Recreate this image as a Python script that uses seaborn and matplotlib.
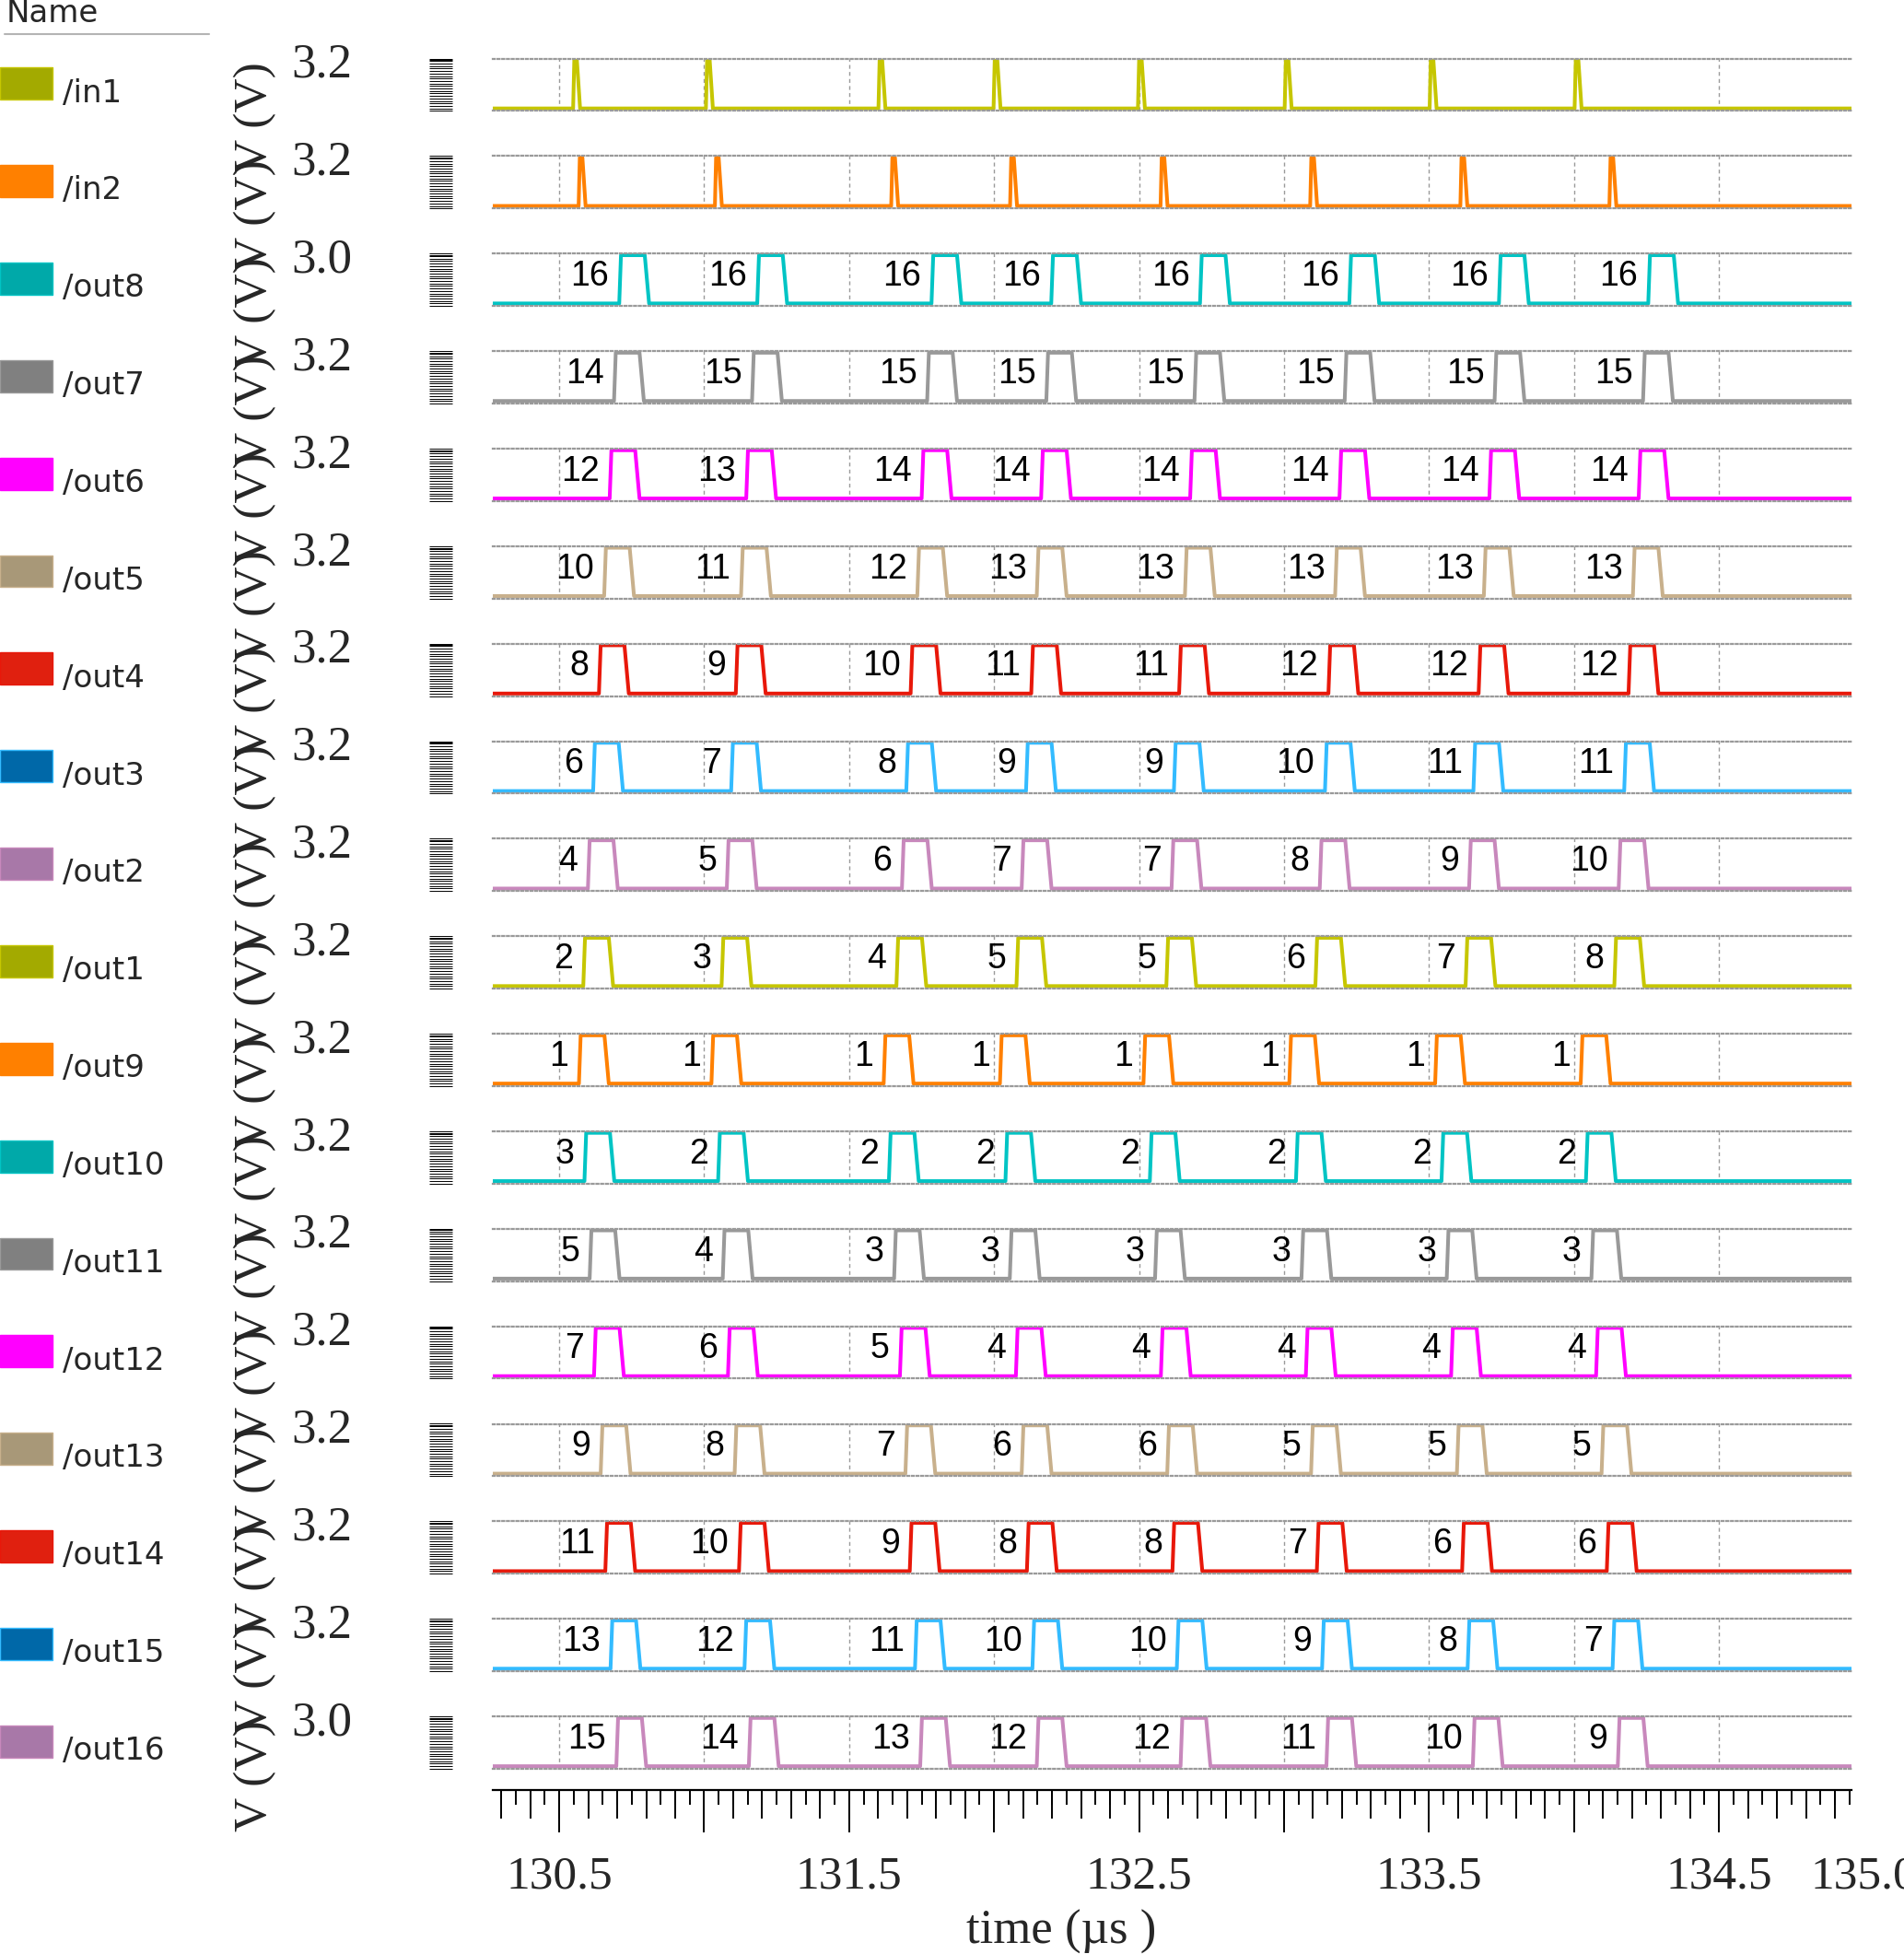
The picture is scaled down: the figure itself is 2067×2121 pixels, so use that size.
import numpy as np
import pandas as pd
import matplotlib
matplotlib.use('Agg')
import matplotlib.pyplot as plt
import matplotlib.transforms as mtransforms
from matplotlib.lines import Line2D
from matplotlib.patches import Patch, Rectangle
from matplotlib.legend_handler import HandlerPatch
from matplotlib.ticker import MultipleLocator
import seaborn as sns

sns.set_theme(style='white')
plt.rcParams['font.family'] = ['DejaVu Sans']

## signal names, top tick value of each row
signals = ['/in1', '/in2', '/out8', '/out7', '/out6', '/out5', '/out4', '/out3', '/out2',
           '/out1', '/out9', '/out10', '/out11', '/out12', '/out13', '/out14', '/out15', '/out16']
tops = [3.2, 3.2, 3.0, 3.2, 3.2, 3.2, 3.2, 3.2, 3.2, 3.2, 3.2, 3.2, 3.2, 3.2, 3.2, 3.2, 3.2, 3.0]

## rising edge of every pulse (us)
rise_in1 = [130.548, 131.006, 131.601, 131.998, 132.496, 133.002, 133.502, 134.002]
rise_in2 = [130.567, 131.037, 131.645, 132.055, 132.574, 133.090, 133.608, 134.122]
rise_out8 = [130.707, 131.183, 131.784, 132.197, 132.710, 133.225, 133.741, 134.256]
rise_out7 = [130.689, 131.165, 131.769, 132.180, 132.691, 133.209, 133.726, 134.238]
rise_out6 = [130.674, 131.145, 131.750, 132.162, 132.676, 133.191, 133.708, 134.223]
rise_out5 = [130.655, 131.127, 131.735, 132.147, 132.658, 133.176, 133.689, 134.203]
rise_out4 = [130.637, 131.109, 131.712, 132.128, 132.638, 133.153, 133.671, 134.188]
rise_out3 = [130.617, 131.093, 131.697, 132.110, 132.620, 133.141, 133.653, 134.173]
rise_out2 = [130.599, 131.078, 131.682, 132.095, 132.612, 133.123, 133.638, 134.154]
rise_out1 = [130.583, 131.060, 131.663, 132.077, 132.594, 133.108, 133.626, 134.139]
rise_out9 = [130.568, 131.025, 131.619, 132.020, 132.515, 133.018, 133.521, 134.023]
rise_out10 = [130.587, 131.048, 131.637, 132.039, 132.537, 133.041, 133.543, 134.041]
rise_out11 = [130.605, 131.064, 131.655, 132.054, 132.555, 133.060, 133.561, 134.060]
rise_out12 = [130.620, 131.082, 131.675, 132.075, 132.575, 133.075, 133.576, 134.076]
rise_out13 = [130.643, 131.105, 131.694, 132.095, 132.597, 133.093, 133.596, 134.095]
rise_out14 = [130.659, 131.120, 131.709, 132.113, 132.615, 133.113, 133.614, 134.113]
rise_out15 = [130.677, 131.139, 131.727, 132.132, 132.630, 133.131, 133.633, 134.133]
rise_out16 = [130.697, 131.154, 131.745, 132.147, 132.643, 133.146, 133.651, 134.151]

## counter value written next to each pulse
count_out8 = [16, 16, 16, 16, 16, 16, 16, 16]
count_out7 = [14, 15, 15, 15, 15, 15, 15, 15]
count_out6 = [12, 13, 14, 14, 14, 14, 14, 14]
count_out5 = [10, 11, 12, 13, 13, 13, 13, 13]
count_out4 = [8, 9, 10, 11, 11, 12, 12, 12]
count_out3 = [6, 7, 8, 9, 9, 10, 11, 11]
count_out2 = [4, 5, 6, 7, 7, 8, 9, 10]
count_out1 = [2, 3, 4, 5, 5, 6, 7, 8]
count_out9 = [1, 1, 1, 1, 1, 1, 1, 1]
count_out10 = [3, 2, 2, 2, 2, 2, 2, 2]
count_out11 = [5, 4, 3, 3, 3, 3, 3, 3]
count_out12 = [7, 6, 5, 4, 4, 4, 4, 4]
count_out13 = [9, 8, 7, 6, 6, 5, 5, 5]
count_out14 = [11, 10, 9, 8, 8, 7, 6, 6]
count_out15 = [13, 12, 11, 10, 10, 9, 8, 7]
count_out16 = [15, 14, 13, 12, 12, 11, 10, 9]

x_ticks = [130.5, 131.0, 131.5, 132.0, 132.5, 133.0, 133.5, 134.0, 134.5]
x_ticklabels = ['130.5', '', '131.5', '', '132.5', '', '133.5', '', '134.5']

line_colors = ['#c6c600', '#ff8000', '#00c4c4', '#999999', '#ff00ff', '#c8b08c', '#e8180a',
               '#33bbff', '#c888bc', '#c6c600', '#ff8000', '#00c4c4', '#999999', '#ff00ff',
               '#c8b08c', '#e8180a', '#33bbff', '#c888bc']
swatch_colors = ['#a3aa00', '#ff8000', '#00a9a9', '#808080', '#ff00ff', '#a89878', '#e0200f',
                 '#0068a8', '#a878a8', '#a3aa00', '#ff8000', '#00a9a9', '#808080', '#ff00ff',
                 '#a89878', '#e0200f', '#0068a8', '#a878a8']

rises = [rise_in1, rise_in2, rise_out8, rise_out7, rise_out6, rise_out5, rise_out4, rise_out3,
         rise_out2, rise_out1, rise_out9, rise_out10, rise_out11, rise_out12, rise_out13,
         rise_out14, rise_out15, rise_out16]
counts = [None, None, count_out8, count_out7, count_out6, count_out5, count_out4, count_out3,
          count_out2, count_out1, count_out9, count_out10, count_out11, count_out12,
          count_out13, count_out14, count_out15, count_out16]

T0, T1 = 130.271, 134.957
W, H = 2067, 2121
X0, X1 = 535, 2010
ROW0, GAP, ROWH = 63.6, 105.85, 56.8
SERIF = 'Liberation Serif'
SWATCH_UP = 6.0  # swatch sits a bit higher than its text (points)


def waveform(r_list, top, spike):
    # trapezoid pulses: rise, flat top, slower fall
    shape = [0.0, 0.004, 0.013, 0.024] if spike else [0.0, 0.006, 0.088, 0.103]
    t, v = [T0], [0.0]
    for r in r_list:
        t += [r + s for s in shape]
        v += [0.0, top, top, 0.0]
    t.append(T1)
    v.append(0.0)
    return pd.DataFrame({'time': t, 'volt': v})


def raised_patch(legend, orig_handle, xdescent, ydescent, width, height, fontsize):
    return Rectangle((-xdescent, -ydescent + SWATCH_UP), width, height)


fig = plt.figure(figsize=(W / 100, H / 100), dpi=100)

for i, name in enumerate(signals):
    y_top = ROW0 + i * GAP
    ax = fig.add_axes([X0 / W, 1 - (y_top + ROWH) / H, (X1 - X0) / W, ROWH / H])
    top = tops[i]
    df = waveform(rises[i], top, counts[i] is None)
    sns.lineplot(data=df, x='time', y='volt', ax=ax, color=line_colors[i], lw=2.9,
                 estimator=None, sort=False)
    per_px = top / (ROWH - 4.4)
    lo, hi = -2.7 * per_px, top + 1.7 * per_px
    ax.set_xlim(T0, T1)
    ax.set_ylim(lo, hi)

    # vertical dashed grid every 0.5 us
    ax.set_xticks(x_ticks)
    ax.tick_params(axis='x', length=0, labelbottom=False)
    ax.grid(axis='x', color='#9a9a9a', lw=1.0, ls=(0, (3, 2.5)))
    ax.set_xlabel('')

    # dense "barcode" ticks on the y axis, single label at the top
    ax.set_yticks([top])
    ax.set_yticklabels([f'{top:.1f}'])
    ax.set_yticks(np.linspace(lo, hi, 22), minor=True)
    ax.tick_params(axis='y', which='both', direction='out', length=18, width=0.7,
                   color='black', left=True)
    ax.tick_params(axis='y', which='major', pad=60, labelsize=38, labelfontfamily=SERIF)
    ax.spines['left'].set_position(('outward', 32))
    ax.spines['left'].set_color('none')
    ax.spines['right'].set_visible(False)
    for side in ['top', 'bottom']:
        ax.spines[side].set_linestyle((0, (1, 1.3)))
        ax.spines[side].set_color('#9a9a9a')
        ax.spines[side].set_linewidth(1.6)

    ax.set_ylabel('V (V)', fontsize=37, family=SERIF, va='center', ha='center')
    ax.yaxis.set_label_coords(277 / W, 1 - (y_top + ROWH / 2 + 36) / H,
                              transform=fig.transFigure)

    if counts[i] is not None:
        for r, n in zip(rises[i], counts[i]):
            ax.text(r - 0.035, 0.56 * top, str(n), ha='right', va='center', fontsize=27,
                    family='Liberation Sans', color='black')

    ax.legend(handles=[Patch(facecolor=swatch_colors[i], edgecolor=line_colors[i], lw=1)],
              labels=[name], loc='center left',
              bbox_to_anchor=(0, 1 - (y_top + 36) / H), bbox_transform=fig.transFigure,
              handler_map={Patch: HandlerPatch(patch_func=raised_patch)},
              frameon=False, borderpad=0, borderaxespad=0, handlelength=1.68,
              handleheight=1.2, handletextpad=0.32, prop={'family': 'DejaVu Sans', 'size': 24.5})

## time ruler at the bottom
AX_Y = 1943
ax_r = fig.add_axes([X0 / W, 1 - AX_Y / H, (X1 - X0) / W, 0.5 / H])
ax_r.set_xlim(T0, T1)
ax_r.set_yticks([])
for side in ['top', 'left', 'right']:
    ax_r.spines[side].set_visible(False)
ax_r.spines['bottom'].set_color('black')
ax_r.spines['bottom'].set_linewidth(1.6)
ax_r.set_xticks(x_ticks)
ax_r.set_xticklabels(x_ticklabels)
ax_r.xaxis.set_minor_locator(MultipleLocator(0.05))
ax_r.tick_params(axis='x', which='major', direction='out', length=33, width=1.4,
                 color='black', bottom=True, pad=18, labelsize=37, labelfontfamily=SERIF)
ax_r.tick_params(axis='x', which='minor', direction='out', length=11.5, width=1.4,
                 color='black', bottom=True)

ax_m = fig.add_axes([X0 / W, 1 - AX_Y / H, (X1 - X0) / W, 0.5 / H])
ax_m.set_xlim(T0, T1)
ax_m.set_frame_on(False)
ax_m.set_yticks([])
ax_m.xaxis.set_major_locator(MultipleLocator(0.1))
ax_m.tick_params(axis='x', which='major', direction='out', length=22, width=1.4,
                 color='black', bottom=True, labelbottom=False)

trans = mtransforms.blended_transform_factory(ax_r.transData, fig.transFigure)
ax_r.text(135.0, 1 - 2037 / H, '135.0', transform=trans, ha='center', va='center',
          fontsize=37, family=SERIF, clip_on=False)

ax_r.set_xlabel('time (µs )', fontsize=38, family=SERIF, va='center', ha='center')
ax_r.xaxis.set_label_coords(1152 / W, 1 - 2097 / H, transform=fig.transFigure)

## "Name" header of the signal list
fig.text(7 / W, 1 - 15 / H, 'Name', fontsize=24.5, family='DejaVu Sans', va='center')
fig.add_artist(Line2D([5 / W, 227 / W], [1 - 37 / H, 1 - 37 / H], color='#b4b4b4', lw=1.5,
                      transform=fig.transFigure))

fig.savefig('out.png', dpi=100)
